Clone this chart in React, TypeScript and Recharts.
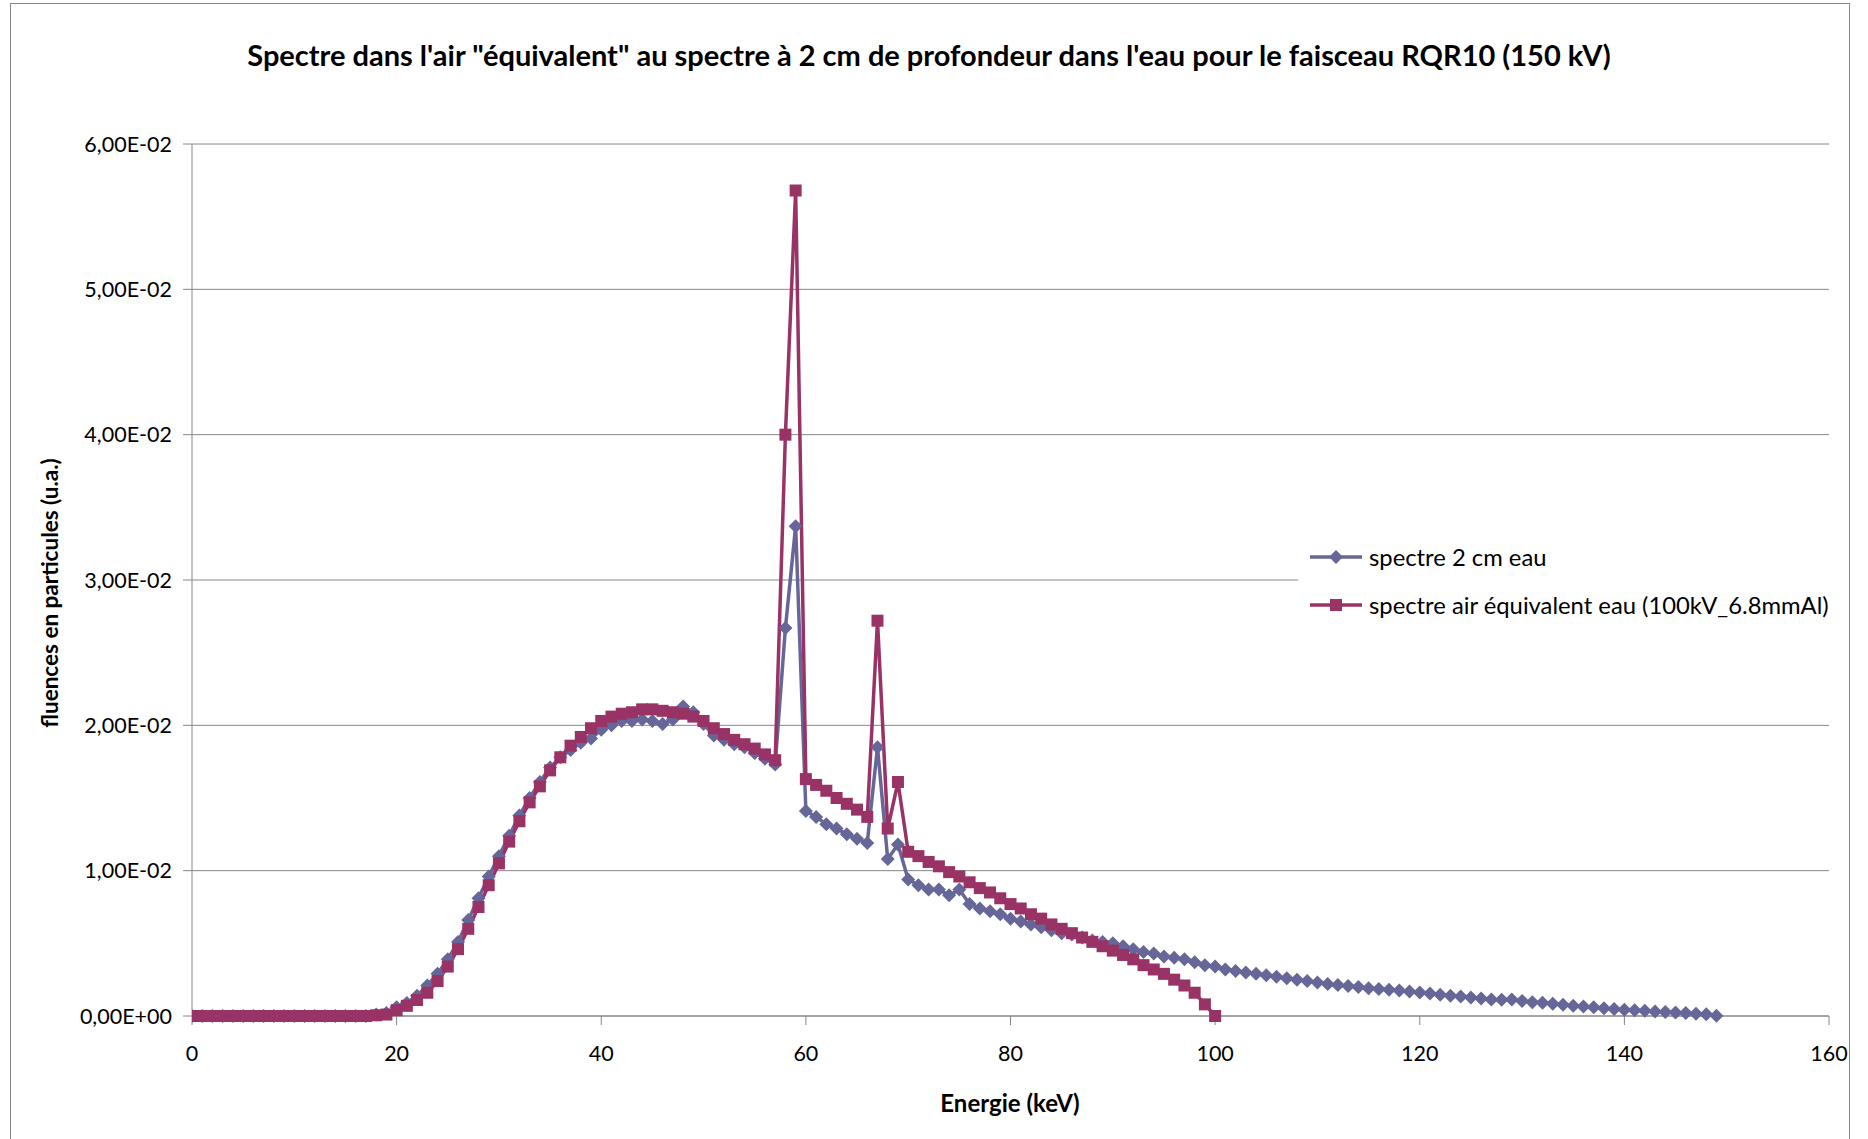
import { LineChart, Line, XAxis, YAxis, CartesianGrid } from 'recharts'

const energies = [
  0, 1, 2, 3, 4, 5, 6, 7, 8, 9, 10, 11, 12, 13, 14, 15, 16, 17, 18, 19,
  20, 21, 22, 23, 24, 25, 26, 27, 28, 29, 30, 31, 32, 33, 34, 35, 36, 37, 38, 39,
  40, 41, 42, 43, 44, 45, 46, 47, 48, 49, 50, 51, 52, 53, 54, 55, 56, 57, 58, 59,
  60, 61, 62, 63, 64, 65, 66, 67, 68, 69, 70, 71, 72, 73, 74, 75, 76, 77, 78, 79,
  80, 81, 82, 83, 84, 85, 86, 87, 88, 89, 90, 91, 92, 93, 94, 95, 96, 97, 98, 99,
  100, 101, 102, 103, 104, 105, 106, 107, 108, 109, 110, 111, 112, 113, 114, 115, 116, 117, 118, 119,
  120, 121, 122, 123, 124, 125, 126, 127, 128, 129, 130, 131, 132, 133, 134, 135, 136, 137, 138, 139,
  140, 141, 142, 143, 144, 145, 146, 147, 148, 149,
]

// spectre 2 cm eau, 0..149 keV
const eau2cm = [
  0, 0, 0, 0, 0, 0, 0, 0, 0, 0, 0, 0, 0, 0, 0, 0, 0, 0, 0.0001, 0.0002,
  0.0006, 0.0009, 0.0014, 0.0021, 0.0029, 0.0039, 0.0051, 0.0066, 0.0081, 0.0096,
  0.011, 0.0124, 0.0138, 0.015, 0.0161, 0.0171, 0.0178, 0.0183, 0.0188, 0.0191,
  0.0197, 0.02, 0.0203, 0.0203, 0.0204, 0.0203, 0.0201, 0.0204, 0.0213, 0.0209,
  0.0201, 0.0193, 0.019, 0.0187, 0.0185, 0.0181, 0.0177, 0.0173, 0.0267, 0.0337,
  0.0141, 0.0137, 0.0132, 0.0129, 0.0125, 0.0122, 0.0119, 0.0185, 0.0108, 0.0118,
  0.0094, 0.009, 0.0087, 0.0087, 0.0083, 0.0087, 0.0077, 0.0074, 0.0072, 0.007,
  0.0067, 0.0065, 0.0063, 0.0061, 0.0059, 0.0057, 0.0056, 0.0054, 0.0052, 0.0051,
  0.005, 0.0048, 0.0046, 0.0044, 0.0043, 0.0041, 0.004, 0.0039, 0.0037, 0.0035,
  0.0034, 0.0032, 0.0031, 0.003, 0.0029, 0.0028, 0.0027, 0.0026, 0.0025, 0.0024,
  0.0023, 0.0022, 0.00214, 0.00207, 0.00199, 0.00191, 0.00185, 0.0018, 0.00175, 0.00169,
  0.00162, 0.00154, 0.00147, 0.0014, 0.00134, 0.00128, 0.00121, 0.00114, 0.00111, 0.00113,
  0.00104, 0.00095, 0.00092, 0.00085, 0.00078, 0.00071, 0.00066, 0.0006, 0.00054, 0.00048,
  0.00043, 0.00039, 0.00036, 0.00031, 0.00027, 0.00024, 0.0002, 0.00016, 0.00012, 0.00002,
]

// spectre air équivalent eau, 0..100 keV
const airEquiv = [
  0, 0, 0, 0, 0, 0, 0, 0, 0, 0, 0, 0, 0, 0, 0, 0, 0, 0, 0.00005, 0.0001,
  0.0004, 0.0007, 0.0011, 0.0016, 0.0024, 0.0034, 0.0046, 0.006, 0.0075, 0.009,
  0.0105, 0.012, 0.0134, 0.0147, 0.0158, 0.0169, 0.0178, 0.0186, 0.0192, 0.0198,
  0.0203, 0.0206, 0.0208, 0.0209, 0.0211, 0.0211, 0.021, 0.0209, 0.0208, 0.0206,
  0.0203, 0.0198, 0.0194, 0.019, 0.0187, 0.0184, 0.018, 0.0176, 0.04, 0.0568,
  0.0163, 0.0159, 0.0155, 0.015, 0.0146, 0.0142, 0.0137, 0.0272, 0.0129, 0.0161,
  0.0113, 0.011, 0.0106, 0.0103, 0.0099, 0.0096, 0.0092, 0.0088, 0.0085, 0.0081,
  0.0077, 0.0074, 0.007, 0.0067, 0.0063, 0.006, 0.0057, 0.0054, 0.0051, 0.0048,
  0.0045, 0.0042, 0.0039, 0.0035, 0.0032, 0.0029, 0.0025, 0.0021, 0.0016, 0.0008,
  0,
]

const xTicks = [0, 20, 40, 60, 80, 100, 120, 140, 160]
const yTicks = [0, 0.01, 0.02, 0.03, 0.04, 0.05, 0.06]

const BLUE = '#666699'
const PLUM = '#993366'
const GRID = '#868686'
const FONT = 'Lato, "Open Sans", sans-serif'

const eauData = eau2cm.map((v, i) => ({ e: energies[i], v }))
const airData = airEquiv.map((v, i) => ({ e: energies[i], v }))

// 6,00E-02 style labels
const sci = (v: number) => {
  const [m, ex] = v.toExponential(2).split('e')
  const n = Math.abs(parseInt(ex, 10))
  const sign = ex.startsWith('-') ? '-' : '+'
  return `${m.replace('.', ',')}E${sign}${n < 10 ? '0' + n : n}`
}

const Diamond = (props: any) => {
  const { cx, cy, index } = props
  if (cx == null || cy == null) return null
  const r = 7
  return (
    <path key={`d${index}`} d={`M${cx},${cy - r}L${cx + r},${cy}L${cx},${cy + r}L${cx - r},${cy}Z`} fill={BLUE} />
  )
}

const Square = (props: any) => {
  const { cx, cy, index } = props
  if (cx == null || cy == null) return null
  const r = 6
  return <rect key={`s${index}`} x={cx - r} y={cy - r} width={r * 2} height={r * 2} fill={PLUM} />
}

export default function App() {
  return (
    <div style={{ position: 'absolute', left: 0, top: 0, width: 1868, height: 1139, background: '#fff', fontFamily: FONT }}>
      <div style={{ position: 'absolute', left: 10, top: 3, width: 1840, height: 1145, border: `1px solid ${GRID}`, boxSizing: 'border-box' }} />
      <LineChart width={1868} height={1139} margin={{ top: 144, right: 39, bottom: 63, left: 0 }}>
        <CartesianGrid vertical={false} stroke={GRID} strokeWidth={1} />
        <XAxis
          type="number"
          dataKey="e"
          domain={[0, 160]}
          ticks={xTicks}
          height={60}
          stroke={GRID}
          tickSize={9}
          tickMargin={21}
          tick={{ fill: '#000', fontSize: 21.5, fontFamily: FONT }}
          allowDataOverflow
        />
        <YAxis
          type="number"
          domain={[0, 0.06]}
          ticks={yTicks}
          width={192}
          stroke={GRID}
          tickSize={9}
          tickMargin={11}
          tickFormatter={sci}
          tick={{ fill: '#000', fontSize: 21.5, fontFamily: FONT }}
        />
        <Line
          data={eauData}
          dataKey="v"
          type="linear"
          stroke={BLUE}
          strokeWidth={3.5}
          dot={Diamond}
          activeDot={false}
          isAnimationActive={false}
        />
        <Line
          data={airData}
          dataKey="v"
          type="linear"
          stroke={PLUM}
          strokeWidth={3.5}
          dot={Square}
          activeDot={false}
          isAnimationActive={false}
        />
      </LineChart>

      <div style={{ position: 'absolute', left: 0, top: 38, width: 1858, textAlign: 'center', fontSize: 29, fontWeight: 700, lineHeight: '34px', color: '#000' }}>
        Spectre dans l'air "équivalent" au spectre à 2 cm de profondeur dans l'eau pour le faisceau RQR10 (150 kV)
      </div>

      <div style={{ position: 'absolute', left: 810, top: 1089, width: 400, textAlign: 'center', fontSize: 24, fontWeight: 700, lineHeight: '28px', color: '#000' }}>
        Energie (keV)
      </div>

      <div style={{ position: 'absolute', left: 50, top: 593, transform: 'translate(-50%, -50%) rotate(-90deg)', whiteSpace: 'nowrap', fontSize: 22.5, fontWeight: 700, lineHeight: '26px', color: '#000' }}>
        fluences en particules (u.a.)
      </div>

      <div style={{ position: 'absolute', left: 1298, top: 527, width: 548, height: 106, background: '#fff' }}>
        {[
          { name: 'spectre 2 cm eau', color: BLUE, shape: 'diamond', y: 30 },
          { name: 'spectre air équivalent eau (100kV_6.8mmAl)', color: PLUM, shape: 'square', y: 78 },
        ].map((it) => (
          <div key={it.name} style={{ position: 'absolute', left: 12, top: it.y - 14, height: 28, display: 'flex', alignItems: 'center' }}>
            <svg width={52} height={16} style={{ display: 'block' }}>
              <line x1={0} y1={8} x2={52} y2={8} stroke={it.color} strokeWidth={3.5} />
              {it.shape === 'diamond' ? (
                <path d="M26,1L33,8L26,15L19,8Z" fill={it.color} />
              ) : (
                <rect x={20} y={2} width={12} height={12} fill={it.color} />
              )}
            </svg>
            <span style={{ marginLeft: 7, fontSize: 23.8, color: '#000', whiteSpace: 'nowrap' }}>{it.name}</span>
          </div>
        ))}
      </div>
    </div>
  )
}
